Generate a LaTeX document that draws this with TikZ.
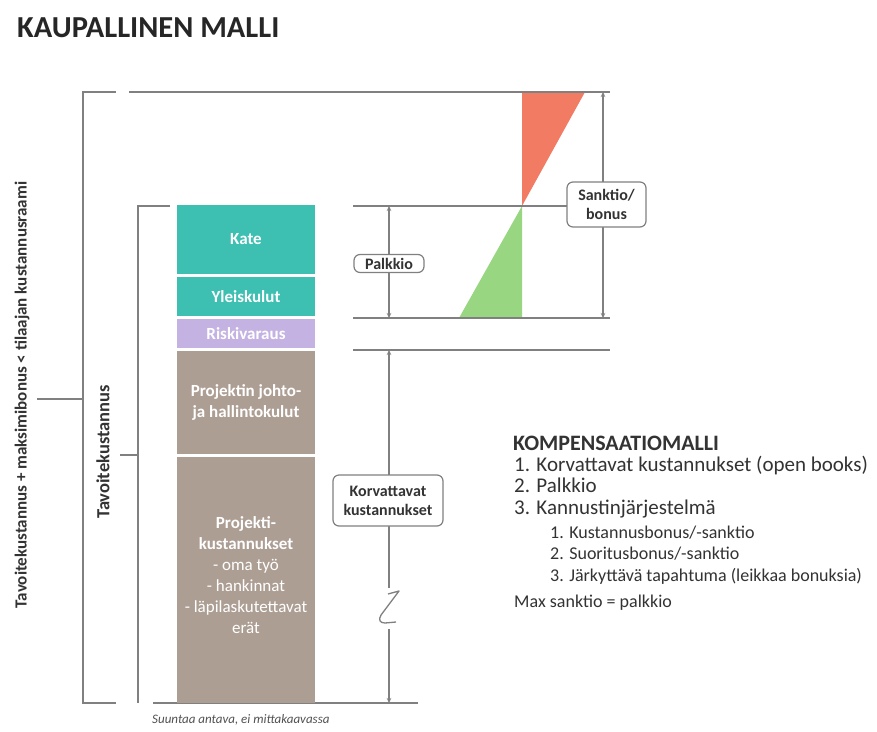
\documentclass[tikz,border=0pt]{standalone}
\usepackage{fontspec}
\setmainfont{Carlito}
\usetikzlibrary{arrows.meta}
\definecolor{turkoosi}{HTML}{3DBFB2}
\definecolor{liila}{HTML}{C4B3E2}
\definecolor{ruskea}{HTML}{AD9E94}
\definecolor{punainen}{HTML}{F27B64}
\definecolor{vihrea}{HTML}{98D682}
\definecolor{harmaa}{HTML}{808080}
\definecolor{teksti}{HTML}{333333}
\tikzset{
  viiva/.style={draw=harmaa, line width=1.5pt},
  kaari/.tip={Stealth[length=5pt,width=4.5pt]},
  mitta/.style={viiva, kaari-kaari},
  lohko/.style={fill=#1, minimum width=138pt, inner sep=0pt, text=white,
    font=\fontsize{17}{21}\selectfont\bfseries, align=center},
  selite/.style={draw=harmaa, line width=1.2pt, fill=white, rounded corners=6pt,
    inner sep=0pt, text=teksti, align=center,
    font=\fontsize{16}{19}\selectfont\bfseries},
  pysty/.style={rotate=90, inner sep=0pt, text=teksti,
    font=\fontsize{17}{20}\selectfont\bfseries},
  lista/.style={anchor=base west, inner sep=0pt, text=teksti}
}
\begin{document}
\begin{tikzpicture}[x=1pt,y=-1pt]
\useasboundingbox[fill=white] (0,0) rectangle (877,731);
% otsikko
\node[lista, text=black!85, font=\fontsize{30.5}{34}\selectfont\bfseries] (otsikko) at (17,37) {KAUPALLINEN MALLI};
% sanktio ja bonus
\fill[punainen] (522,92) -- (585,92) -- (522,206) -- cycle;
\fill[vihrea] (522,206) -- (522,318) -- (459,318) -- cycle;
% hakaset
\draw[viiva] (116,92) -- (83,92) -- (83,703) -- (116,703);
\draw[viiva] (37,399) -- (83,399);
\draw[viiva] (170,206) -- (138,206) -- (138,703);
\draw[viiva] (120,455) -- (138,455);
\node[pysty] (raami) at (22,395) {Tavoitekustannus + maksimibonus < tilaajan kustannusraami};
\node[pysty, font=\fontsize{18.5}{21}\selectfont\bfseries] (tavoite) at (103,452) {Tavoitekustannus};
% vaakaviivat
\draw[viiva] (129,92) -- (610,92);
\draw[viiva] (353,206) -- (603,206);
\draw[viiva] (353,318) -- (610,318);
\draw[viiva] (353,350) -- (610,350);
\draw[viiva] (153,703) -- (418,703);
% pylvas
\node[lohko=turkoosi, minimum height=69pt] (kate) at (246,239.5) {Kate};
\node[lohko=turkoosi, minimum height=39pt] (yleis) at (246,296.5) {Yleiskulut};
\node[lohko=liila, minimum height=29pt] (riski) at (246,333.5) {Riskivaraus};
\node[lohko=ruskea, minimum height=103pt] (johto) at (246,402.5) {Projektin johto-\\ja hallintokulut};
\node[lohko=ruskea, minimum height=246pt] (projekti) at (246,580) {};
\node[lohko=ruskea, minimum width=0pt] (projteksti) at (246,575) {Projekti-\\kustannukset\\\textmd{- oma työ}\\\textmd{- hankinnat}\\\textmd{- läpilaskutettavat}\\\textmd{erät}};
% mitat
\coordinate (palkkioA) at (389,206);
\coordinate (palkkioB) at (389,318);
\draw[mitta] (palkkioA) -- (palkkioB);
\node[selite, minimum width=70pt, minimum height=18pt] (palkkio) at (389,263.5) {Palkkio};
\coordinate (sanktioA) at (603,92);
\coordinate (sanktioB) at (603,318);
\draw[mitta] (sanktioA) -- (sanktioB);
\node[selite, minimum width=79pt, minimum height=45pt] (sanktio) at (606.5,204.5) {Sanktio/\\bonus};
\coordinate (korvA) at (389,350);
\coordinate (korvB) at (389,588);
\coordinate (korvC) at (389,629);
\coordinate (korvD) at (389,703);
\draw[viiva, kaari-] (korvA) -- (korvB);
\draw[viiva, -kaari] (korvC) -- (korvD);
\draw[draw=harmaa, line width=1.3pt, line join=round] (388,594) -- (399,591) -- (381,615) .. controls (378,620) and (380,623) .. (385,623) -- (396,622);
\node[selite, minimum width=110pt, minimum height=51pt] (korvattavat) at (388,500.5) {Korvattavat\\kustannukset};
% kompensaatiomalli
\node[lista, font=\fontsize{22}{26}\selectfont\bfseries] (malli) at (513,450.5) {KOMPENSAATIOMALLI};
\node[lista, font=\fontsize{21}{24}\selectfont] (k1) at (514,471) {1. Korvattavat kustannukset (open books)};
\node[lista, font=\fontsize{21}{24}\selectfont] (k2) at (514,492) {2. Palkkio};
\node[lista, font=\fontsize{21}{24}\selectfont] (k3) at (514,514) {3. Kannustinjärjestelmä};
\node[lista, font=\fontsize{18}{21}\selectfont] (k31) at (550,538) {1. Kustannusbonus/-sanktio};
\node[lista, font=\fontsize{18}{21}\selectfont] (k32) at (550,559.5) {2. Suoritusbonus/-sanktio};
\node[lista, font=\fontsize{18}{21}\selectfont] (k33) at (550,581) {3. Järkyttävä tapahtuma (leikkaa bonuksia)};
\node[lista, font=\fontsize{18}{21}\selectfont] (maxs) at (514,607.5) {Max sanktio = palkkio};
% alaviite
\node[lista, text=teksti!85, font=\fontsize{13}{15}\selectfont\itshape] (viite) at (152,723) {Suuntaa antava, ei mittakaavassa};
\end{tikzpicture}
\end{document}
